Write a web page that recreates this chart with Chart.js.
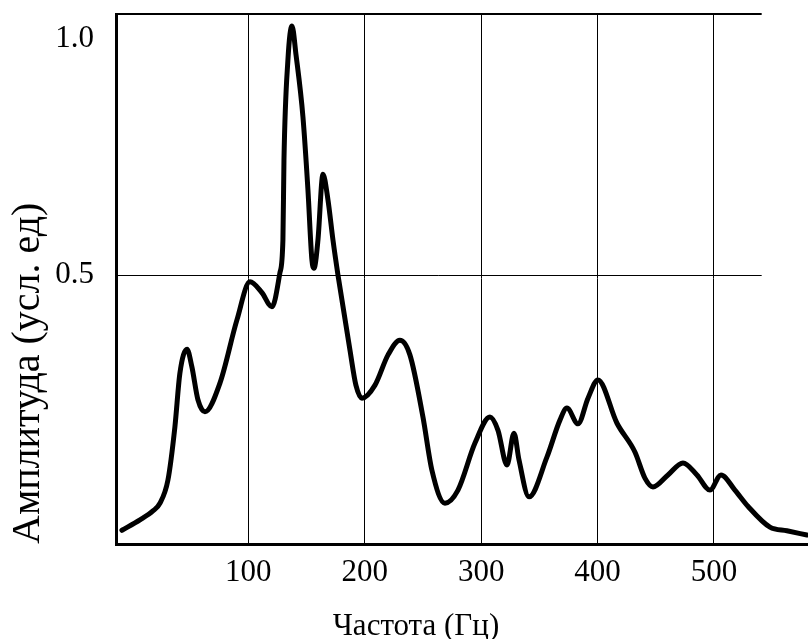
<!DOCTYPE html>
<html>
<head>
<meta charset="utf-8">
<script src="https://cdn.jsdelivr.net/npm/chart.js@4.4.1/dist/chart.umd.min.js"></script>
<style>
  html, body { margin: 0; padding: 0; background: #ffffff; }
  #wrap { width: 808px; height: 639px; }
</style>
</head>
<body>
<div id="wrap"><canvas id="c" width="808" height="639"></canvas></div>
<script>
// ---- data ----
const freqHz = [-8.6, 6.9, 18, 24.1, 30.9, 36.9, 41.2, 47.3, 51.5, 56.7, 62.7, 75.6, 90.2, 101.4,
  111.7, 120.3, 127.1, 129.7, 130.6, 134, 137.5, 141, 146.9, 151.2, 154.6, 156.4, 159.8, 164.1, 168.4,
  172.7, 177, 187.3, 192.4, 197.6, 208.8, 220, 230.2, 238.8, 250, 257.7, 268.9, 280.1, 294.7, 307.6,
  314.4, 322.2, 328.2, 332.5, 341.1, 356.5, 367.7, 373.7, 383.2, 391.8, 400.3, 416.7, 432.1, 440.7,
  447.6, 460.5, 473.4, 485.4, 496.6, 506, 518, 529.2, 548.1, 562.7, 579.9];
const amplitude = [0.011, 0.031, 0.048, 0.063, 0.107, 0.209, 0.312, 0.358, 0.324, 0.261, 0.238, 0.293, 0.414, 0.487,
  0.466, 0.439, 0.504, 0.567, 0.720, 0.912, 0.977, 0.921, 0.803, 0.663, 0.529, 0.513, 0.567, 0.693, 0.644,
  0.567, 0.500, 0.356, 0.289, 0.264, 0.289, 0.347, 0.375, 0.347, 0.228, 0.126, 0.063, 0.088, 0.178, 0.228,
  0.203, 0.136, 0.197, 0.146, 0.075, 0.151, 0.222, 0.245, 0.215, 0.264, 0.299, 0.216, 0.161, 0.111,
  0.094, 0.117, 0.140, 0.117, 0.088, 0.117, 0.088, 0.057, 0.017, 0.010, 0.002];
const xTickValues = [100, 200, 300, 400, 500];
const yTickValues = [0.5, 1.0];
const xTitle = 'Частота (Гц)';
const yTitle = 'Амплитуда (усл. ед)';

// ---- style / layout constants ----
const FONT = '"Liberation Serif", "Times New Roman", serif';
const FONT_SIZE = 31;
const Y_TITLE_SIZE = 40;
const X_MIN = -13.7, X_MAX = 580.8;
const Y_MIN = -0.0153, Y_MAX = 1.0;
const H_GRID_END = 541;      // horizontal grid lines stop here (x value)
const X_TITLE_CENTER = 244;  // x value under which the x title is centred

const hGridPlugin = {
  id: 'hGrid',
  beforeDatasetsDraw(chart) {
    const { ctx, scales: { x, y } } = chart;
    const xEnd = x.getPixelForValue(H_GRID_END);
    ctx.save();
    ctx.strokeStyle = '#000';
    yTickValues.forEach(v => {
      const w = v === 1 ? 2 : 1;
      const py = Math.round(y.getPixelForValue(v)) + (w === 1 ? 0.5 : 0);
      ctx.lineWidth = w;
      ctx.beginPath();
      ctx.moveTo(x.left, py);
      ctx.lineTo(xEnd, py);
      ctx.stroke();
    });
    ctx.restore();
  }
};

const xTitlePlugin = {
  id: 'xTitle',
  afterDraw(chart) {
    const { ctx, scales: { x } } = chart;
    ctx.save();
    ctx.fillStyle = '#000';
    ctx.font = FONT_SIZE + 'px ' + FONT;
    ctx.textAlign = 'center';
    ctx.textBaseline = 'alphabetic';
    ctx.fillText(xTitle, x.getPixelForValue(X_TITLE_CENTER), x.bottom - 4);
    ctx.restore();
  }
};

new Chart(document.getElementById('c'), {
  type: 'line',
  data: {
    datasets: [{
      data: freqHz.map((f, i) => ({ x: f, y: amplitude[i] })),
      borderColor: '#000',
      borderWidth: 5,
      pointRadius: 0,
      fill: false,
      cubicInterpolationMode: 'monotone',
      borderCapStyle: 'round',
      borderJoinStyle: 'round',
      clip: false
    }]
  },
  options: {
    responsive: false,
    animation: false,
    devicePixelRatio: 1,
    layout: { padding: { top: 14, right: 0, left: 0, bottom: 0 } },
    plugins: { legend: { display: false }, tooltip: { enabled: false } },
    scales: {
      x: {
        type: 'linear',
        min: X_MIN,
        max: X_MAX,
        afterBuildTicks: s => { s.ticks = xTickValues.map(v => ({ value: v })); },
        afterFit: s => { s.height = 95; s.paddingLeft = 0; s.paddingRight = 0; },
        grid: { color: '#000', lineWidth: 1, drawTicks: false },
        border: { display: true, color: '#000', width: 3 },
        ticks: {
          color: '#000',
          font: { family: FONT, size: FONT_SIZE },
          padding: 10,
          maxRotation: 0,
          autoSkip: false,
          callback: v => String(v)
        }
      },
      y: {
        type: 'linear',
        min: Y_MIN,
        max: Y_MAX,
        afterBuildTicks: s => { s.ticks = yTickValues.map(v => ({ value: v })); },
        afterFit: s => { s.width = 116; s.paddingTop = 0; s.paddingBottom = 0; },
        grid: { display: false, drawTicks: false },
        border: { display: true, color: '#000', width: 3 },
        ticks: {
          color: '#000',
          padding: 22,
          autoSkip: false,
          font: ctx => ({ family: FONT, size: FONT_SIZE,
            lineHeight: (ctx.tick && ctx.tick.value === 1) ? 1.6 : 1.2 }),
          callback: v => (v === 1 ? ['', '1.0'] : v.toFixed(1))
        },
        title: {
          display: true,
          text: yTitle,
          align: 'start',
          color: '#000',
          font: { family: FONT, size: Y_TITLE_SIZE },
          padding: { top: 4, bottom: 0 }
        }
      }
    }
  },
  plugins: [hGridPlugin, xTitlePlugin]
});
</script>
</body>
</html>
